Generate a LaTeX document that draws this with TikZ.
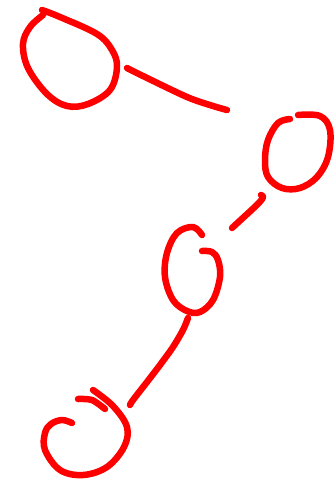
\documentclass[tikz,border=0pt]{standalone}
\tikzset{pen/.style={red,line width=6.5pt,line cap=round,line join=round}}
\begin{document}
\begin{tikzpicture}[x=1pt,y=-1pt]
\useasboundingbox (0,0) rectangle (336,479);
% top left loop and its tail
\draw[pen] plot[smooth,tension=0.6] coordinates {(42,10) (60,17) (97,34) (112,50) (117,67) (110,90) (88,104) (67,106) (47,94) (28,68) (23,44) (30,27) (43,15)};
\draw[pen] plot[smooth] coordinates {(127,68) (143,76) (187,97) (213,106) (227,110)};
% right loop
\draw[pen] plot[smooth,tension=0.6] coordinates {(298,115) (320,116) (330,130) (328,157) (317,177) (300,188) (282,188) (268,177) (265,160) (268,140) (278,123) (290,119)};
\draw[pen] (261,195) .. controls (267,197) and (260,202) .. (232,228);
% middle loop
\draw[pen] plot[smooth,tension=0.6] coordinates {(202,235) (193,227) (177,233) (167,253) (165,277) (173,300) (187,311) (200,312) (213,300) (220,277) (218,260) (212,252) (202,251)};
\draw[pen] plot[smooth] coordinates {(188,318) (183,330) (173,347) (160,365) (147,382) (133,400) (130,405)};
% bottom loop
\draw[pen] plot[smooth] coordinates {(78,399) (92,400) (105,409)};
\draw[pen] plot[smooth,tension=0.6] coordinates {(93,390) (113,406) (127,427) (124,447) (107,467) (83,475) (60,470) (45,450) (45,433) (51,424) (62,420) (72,423)};
\end{tikzpicture}
\end{document}
